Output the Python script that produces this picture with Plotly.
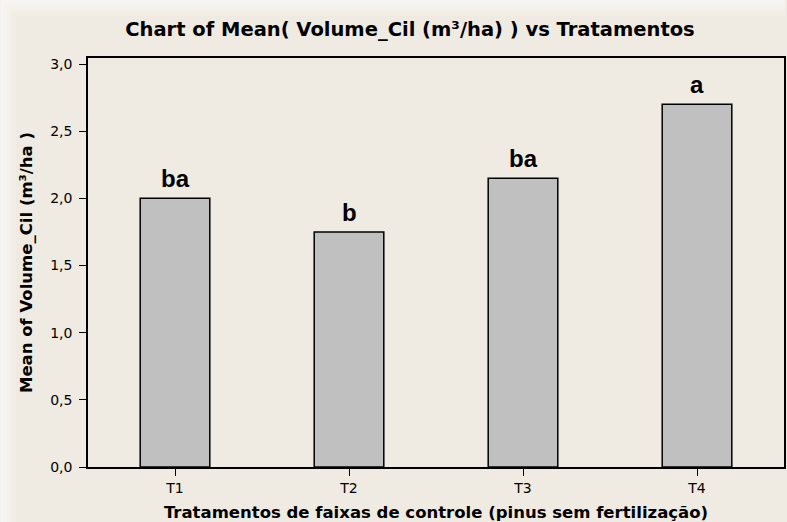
import plotly.graph_objects as go

categories = ["T1", "T2", "T3", "T4"]
means = [2.0, 1.75, 2.15, 2.70]
letters = ["ba", "b", "ba", "a"]
y_ticks = [0.0, 0.5, 1.0, 1.5, 2.0, 2.5, 3.0]

BG = "#EFEBE2"
FONT = "DejaVu Sans, sans-serif"
W, H = 787, 522
L, R, T, B = 88, 1, 58, 55

fig = go.Figure()
fig.add_trace(go.Bar(
    x=categories, y=means, width=0.4,
    marker=dict(color="#C0C0C0", line=dict(color="black", width=1.5)),
    hoverinfo="x+y",
))

for c, v, t in zip(categories, means, letters):
    fig.add_annotation(x=c, y=v, text="<b>%s</b>" % t, showarrow=False,
                       yanchor="bottom", yshift=4,
                       font=dict(family="Liberation Sans, Arial, sans-serif", size=24, color="black"))

# soft light edge (window shadow look) along left and top borders
pw, ph = W - L - R, H - T - B
def px_x(p):
    return (p - L) / pw
def px_y(p):
    return 1 - (p - T) / ph
for k in [3, 6, 9, 12, 16]:
    fig.add_shape(type="rect", xref="paper", yref="paper", layer="below",
                  x0=px_x(0), x1=px_x(k), y0=px_y(H), y1=px_y(0),
                  fillcolor="white", opacity=0.16, line=dict(width=0))
    fig.add_shape(type="rect", xref="paper", yref="paper", layer="below",
                  x0=px_x(k), x1=px_x(W), y0=px_y(k), y1=px_y(0),
                  fillcolor="white", opacity=0.16, line=dict(width=0))

fig.update_layout(
    width=W, height=H,
    paper_bgcolor=BG, plot_bgcolor=BG,
    separators=",.",
    margin=dict(l=L, r=R, t=T, b=B),
    showlegend=False,
    title=dict(text="<b>Chart of Mean( Volume_Cil (m³/ha) ) vs Tratamentos</b>",
               x=410 / W, xanchor="center", y=1 - 29 / H, yanchor="middle", yref="container",
               font=dict(family=FONT, size=19.5, color="black")),
    font=dict(family=FONT, size=14, color="black"),
)

fig.update_xaxes(
    type="category", range=[-0.5, 3.5],
    showline=True, mirror=True, linecolor="black", linewidth=1.5,
    ticks="outside", ticklen=7, tickcolor="black", tickwidth=1,
    showgrid=False, zeroline=False,
    tickfont=dict(family=FONT, size=14),
    title=dict(text="<b>Tratamentos de faixas de controle (pinus sem fertilização)</b>",
               standoff=12, font=dict(family=FONT, size=16.5)),
)
fig.update_yaxes(
    range=[0, 3.045], tickvals=y_ticks, tickformat=".1f",
    showline=True, mirror=True, linecolor="black", linewidth=1.5,
    ticks="outside", ticklen=7, tickcolor="black", tickwidth=1,
    ticklabelstandoff=4,
    showgrid=False, zeroline=False,
    tickfont=dict(family=FONT, size=14),
    title=dict(text="<b>Mean of Volume_Cil (m³/ha )</b>", standoff=13,
               font=dict(family=FONT, size=16.5)),
)

fig.write_html("out.html",
               config={"displayModeBar": False},
               post_script="document.body.style.margin='0';document.body.style.overflow='hidden';")
